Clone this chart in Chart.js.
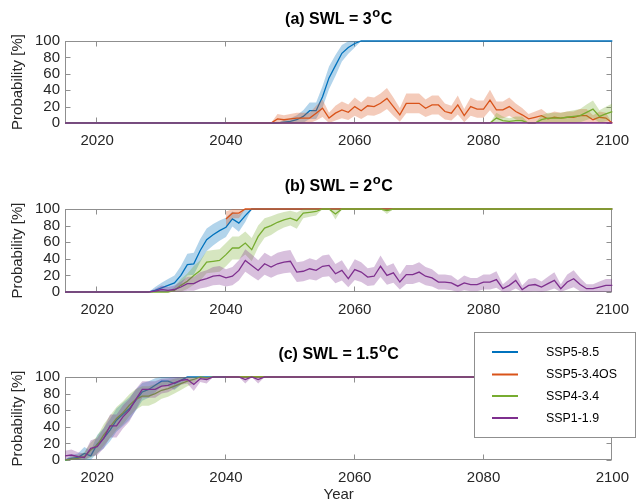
<!DOCTYPE html>
<html><head><meta charset="utf-8">
<script src="https://cdn.jsdelivr.net/npm/chart.js@4.4.0/dist/chart.umd.min.js"></script>
<style>
html,body{margin:0;padding:0;background:#fff;}
#wrap{position:relative;width:638px;height:504px;overflow:hidden;background:#fff;}
canvas{position:absolute;left:0;}
</style></head><body>
<div id="wrap">
<canvas id="ca" style="top:0px" width="638" height="168"></canvas>
<canvas id="cb" style="top:168px" width="638" height="168"></canvas>
<canvas id="cc" style="top:320px" width="638" height="184"></canvas>
</div>
<script>
// ---------- categories / labels ----------
const years = [];
for (let y = 2015; y <= 2100; y++) years.push(y);
const seriesNames = ['SSP5-8.5', 'SSP5-3.4OS', 'SSP4-3.4', 'SSP1-1.9'];
const xTicks = [2020, 2040, 2060, 2080, 2100];
const yTicks = [0, 20, 40, 60, 80, 100];
const panelTitles = [['(a) SWL = 3', 'o', 'C'], ['(b) SWL = 2', 'o', 'C'], ['(c) SWL = 1.5', 'o', 'C']];

// ---------- panel (a) SWL = 3 °C ----------
const blueA = [
  0,0,0,0,0,0,0,0,0,0,
  0,0,0,0,0,0,0,0,0,0,
  0,0,0,0,0,0,0,0,0,0,
  0,0,0,0,1,2,4,8,15,15,
  32,55,70,85,92,97,100,100,100,100,
  100,100,100,100,100,100,100,100,100,100,
  100,100,100,100,100,100,100,100,100,100,
  100,100,100,100,100,100,100,100,100,100,
  100,100,100,100,100,100];
const orangeA = [
  null,null,null,null,null,null,null,null,null,null,
  null,null,null,null,null,null,null,null,null,null,
  null,null,null,null,null,0,0,0,0,0,
  0,0,0,5,4,5,6,6,6,12,
  18,6,12,16,13,20,15,21,20,24,
  30,20,10,24,24,24,18,22,22,14,
  12,22,9,20,17,17,28,16,16,20,
  14,10,5,7,9,5,7,6,7,7,
  9,9,4,7,6,0];
const greenA = [
  0,0,0,0,0,0,0,0,0,0,
  0,0,0,0,0,0,0,0,0,0,
  0,0,0,0,0,0,0,0,0,0,
  0,0,0,0,0,0,0,0,0,0,
  0,0,0,0,0,0,0,0,0,0,
  0,0,0,0,0,0,0,0,0,0,
  0,0,0,0,0,0,0,6,3,2,
  3,3,0,0,4,6,6,6,7,8,
  9,13,17,8,11,14];
const purpleA = [
  0,0,0,0,0,0,0,0,0,0,
  0,0,0,0,0,0,0,0,0,0,
  0,0,0,0,0,0,0,0,0,0,
  0,0,0,0,0,0,0,0,0,0,
  0,0,0,0,0,0,0,0,0,0,
  0,0,0,0,0,0,0,0,0,0,
  0,0,0,0,0,0,0,0,0,0,
  0,0,0,0,0,0,0,0,0,0,
  0,0,0,0,0,0];

// ---------- panel (b) SWL = 2 °C ----------
const blueB = [
  0,0,0,0,0,0,0,0,0,0,
  0,0,0,0,2,5,8,11,20,33,
  34,50,63,69,74,78,88,83,92,100,
  100,100,100,100,100,100,100,100,100,100,
  100,100,100,100,100,100,100,100,100,100,
  100,100,100,100,100,100,100,100,100,100,
  100,100,100,100,100,100,100,100,100,100,
  100,100,100,100,100,100,100,100,100,100,
  100,100,100,100,100,100];
const orangeB = [
  null,null,null,null,null,null,null,null,null,null,
  null,null,null,null,null,null,null,null,null,null,
  null,null,null,null,null,88,95,95,100,100,
  100,100,100,100,100,100,100,100,100,100,
  100,100,100,100,100,100,100,100,100,100,
  100,100,100,100,100,100,100,100,100,100,
  100,100,100,100,100,100,100,100,100,100,
  100,100,100,100,100,100,100,100,100,100,
  100,100,100,100,100,100];
const greenB = [
  0,0,0,0,0,0,0,0,0,0,
  0,0,0,0,0,0,0,2,8,13,
  20,26,36,37,38,45,53,53,59,51,
  67,77,80,84,87,89,86,95,96,97,
  100,100,94,100,100,100,100,100,100,100,
  98,100,100,100,100,100,100,100,100,100,
  100,100,100,100,100,100,100,100,100,100,
  100,100,100,100,100,100,100,100,100,100,
  100,100,100,100,100,100];
const purpleB = [
  0,0,0,0,0,0,0,0,0,0,
  0,0,0,0,1,3,2,3,6,10,
  10,14,16,19,20,17,19,26,38,32,
  26,34,30,34,36,37,24,25,28,26,
  31,32,22,26,16,27,24,18,19,31,
  20,23,12,21,21,24,19,17,12,12,
  11,7,11,9,9,12,12,15,4,8,
  14,3,8,9,6,10,14,4,12,16,
  9,4,4,6,8,8];

// ---------- panel (c) SWL = 1.5 °C ----------
const blueC = [
  0,2,3,8,5,19,26,36,48,55,
  62,72,82,85,90,95,95,92,96,100,
  100,100,100,100,100,100,100,100,100,100,
  100,100,100,100,100,100,100,100,100,100,
  100,100,100,100,100,100,100,100,100,100,
  100,100,100,100,100,100,100,100,100,100,
  100,100,100,100,100,100,100,100,100,100,
  100,100,100,100,100,100,100,100,100,100,
  100,100,100,100,100,100];
const orangeC = [
  null,null,null,null,null,null,null,null,null,null,
  null,null,null,null,null,null,null,null,null,null,
  null,null,null,null,null,100,100,100,100,100,
  100,100,100,100,100,100,100,100,100,100,
  100,100,100,100,100,100,100,100,100,100,
  100,100,100,100,100,100,100,100,100,100,
  100,100,100,100,100,100,100,100,100,100,
  100,100,100,100,100,100,100,100,100,100,
  100,100,100,100,100,100];
const greenC = [
  0,1,2,4,12,18,30,40,50,57,
  66,73,77,77,80,84,86,89,92,95,
  97,100,99,100,100,100,100,100,100,100,
  100,100,100,100,100,100,100,100,100,100,
  100,100,100,100,100,100,100,100,100,100,
  100,100,100,100,100,100,100,100,100,100,
  100,100,100,100,100,100,100,100,100,100,
  100,100,100,100,100,100,100,100,100,100,
  100,100,100,100,100,100];
const purpleC = [
  5,6,4,3,14,16,26,41,41,52,
  60,73,85,85,85,89,90,93,96,97,
  91,98,97,100,100,100,100,100,97,100,
  97,100,100,100,100,100,100,100,100,100,
  100,100,100,100,100,100,100,100,100,100,
  100,100,100,100,100,100,100,100,100,100,
  100,100,100,100,100,100,100,100,100,100,
  100,100,100,100,100,100,100,100,100,100,
  100,100,100,100,100,100];

// ---------- styling ----------
const lineColors = ['#0072BD', '#D95319', '#77AC30', '#7E2F8E'];
const bandColors = ['rgba(0,114,189,0.3)', 'rgba(217,83,25,0.3)', 'rgba(119,172,48,0.3)', 'rgba(126,47,142,0.3)'];
const FONT = '"Liberation Sans", Arial, Helvetica, sans-serif';
const TXT = '#262626';
const AXIS = '#8f8f8f';
const BAND_K = 28; // shading half-width scale (percentage points)

function bandBounds(vals) {
  const lo = [], hi = [];
  vals.forEach(v => {
    if (v === null) { lo.push(null); hi.push(null); return; }
    const p = v / 100;
    const hw = BAND_K * Math.sqrt(p * (1 - p));
    lo.push(Math.max(0, v - hw));
    hi.push(Math.min(100, v + hw));
  });
  return [lo, hi];
}
const pts = arr => arr.map((v, i) => ({x: years[i], y: v}));

const boxPlugin = {
  id: 'matlabBox',
  beforeDatasetsDraw(chart) {
    const {ctx, chartArea: a, scales: {x, y}} = chart;
    ctx.save();
    ctx.strokeStyle = AXIS; ctx.lineWidth = 1;
    const L = Math.round(a.left) + 0.5, R = Math.round(a.right) - 0.5;
    const T = Math.round(a.top) + 0.5, B = Math.round(a.bottom) - 0.5;
    ctx.strokeRect(L, T, R - L, B - T);
    ctx.beginPath();
    xTicks.forEach(v => {
      const px = Math.round(x.getPixelForValue(v)) - 0.5;
      ctx.moveTo(px, B); ctx.lineTo(px, B - 5);
      ctx.moveTo(px, T); ctx.lineTo(px, T + 5);
    });
    yTicks.forEach(v => {
      const py = Math.round(y.getPixelForValue(v)) + 0.5;
      ctx.moveTo(L, py); ctx.lineTo(L + 5, py);
      ctx.moveTo(R, py); ctx.lineTo(R - 5, py);
    });
    ctx.stroke();
    ctx.restore();
  }
};

const titlePlugin = {
  id: 'supTitle',
  afterDraw(chart, args, opts) {
    const {ctx, chartArea: a} = chart;
    const [pre, sup, post] = opts.parts;
    ctx.save();
    ctx.fillStyle = '#000';
    ctx.textBaseline = 'alphabetic';
    const big = 'bold 16px ' + FONT, small = 'bold 13px ' + FONT;
    ctx.font = big; const w1 = ctx.measureText(pre).width; const w3 = ctx.measureText(post).width;
    ctx.font = small; const w2 = ctx.measureText(sup).width;
    const total = w1 + w2 + w3 + 1;
    let x0 = (a.left + a.right) / 2 - total / 2;
    const base = opts.baseline;
    ctx.font = big; ctx.fillText(pre, x0, base);
    ctx.font = small; ctx.fillText(sup, x0 + w1 + 0.5, base - 7);
    ctx.font = big; ctx.fillText(post, x0 + w1 + w2 + 1, base);
    ctx.restore();
  }
};

const legendPlugin = {
  id: 'boxLegend',
  afterDraw(chart, args, opts) {
    if (!opts.show) return;
    const {ctx} = chart;
    ctx.save();
    ctx.fillStyle = '#fff';
    ctx.fillRect(474, 12, 162, 106);
    ctx.strokeStyle = AXIS; ctx.lineWidth = 1;
    ctx.strokeRect(474.5, 12.5, 161, 105);
    const rows = [32, 54.5, 76, 98];
    seriesNames.forEach((n, i) => {
      ctx.strokeStyle = lineColors[i]; ctx.lineWidth = 2;
      ctx.beginPath(); ctx.moveTo(492, rows[i]); ctx.lineTo(518, rows[i]); ctx.stroke();
      ctx.fillStyle = '#000';
      ctx.font = '12.4px ' + FONT;
      ctx.textBaseline = 'middle';
      ctx.fillText(n, 546, rows[i] + 0.5);
    });
    ctx.restore();
  }
};

function makePanel(id, series, titleParts, cfg) {
  const datasets = [];
  series.forEach((vals, i) => {
    const [lo, hi] = bandBounds(vals);
    const ord = 8 - 2 * i;
    datasets.push({data: pts(lo), borderWidth: 0, pointRadius: 0, fill: false, order: ord, clip: 4});
    datasets.push({data: pts(hi), borderWidth: 0, pointRadius: 0, fill: '-1', backgroundColor: bandColors[i], order: ord, clip: 4});
    datasets.push({label: seriesNames[i], data: pts(vals), borderColor: lineColors[i], borderWidth: 1.3,
      pointRadius: 0, fill: false, tension: 0, order: ord - 1, clip: 4});
  });
  const font = {family: FONT, size: 15};
  return new Chart(document.getElementById(id), {
    type: 'line',
    data: {datasets},
    plugins: [boxPlugin, titlePlugin, legendPlugin],
    options: {
      responsive: false, animation: false, devicePixelRatio: 1,
      layout: {padding: {top: cfg.padTop, right: 17, left: 0, bottom: 0}},
      plugins: {
        legend: {display: false}, title: {display: false}, tooltip: {enabled: false},
        supTitle: {parts: titleParts, baseline: cfg.titleBase},
        boxLegend: {show: !!cfg.legend}
      },
      scales: {
        x: {
          type: 'linear', min: 2015, max: 2100,
          afterBuildTicks: s => { s.ticks = xTicks.map(v => ({value: v})); },
          afterFit: s => { s.height = cfg.xH; },
          grid: {display: false, drawTicks: false}, border: {display: false},
          ticks: {callback: v => String(v), color: TXT, font, padding: 9, maxRotation: 0, autoSkip: false},
          title: {display: !!cfg.year, text: 'Year', color: TXT, font, padding: {top: 0, bottom: 0}}
        },
        y: {
          type: 'linear', min: 0, max: 100,
          afterBuildTicks: s => { s.ticks = yTicks.map(v => ({value: v})); },
          afterFit: s => { s.width = 65; },
          grid: {display: false, drawTicks: false}, border: {display: false},
          ticks: {color: TXT, font, padding: 5, autoSkip: false},
          title: {display: true, text: 'Probability [%]', color: TXT, font, padding: {top: 9, bottom: 0}}
        }
      }
    }
  });
}

makePanel('ca', [blueA, orangeA, greenA, purpleA], panelTitles[0], {padTop: 41, xH: 45, titleBase: 24});
makePanel('cb', [blueB, orangeB, greenB, purpleB], panelTitles[1], {padTop: 41, xH: 44, titleBase: 23});
makePanel('cc', [blueC, orangeC, greenC, purpleC], panelTitles[2], {padTop: 57, xH: 44, titleBase: 39, year: true, legend: true});
</script>
</body></html>
